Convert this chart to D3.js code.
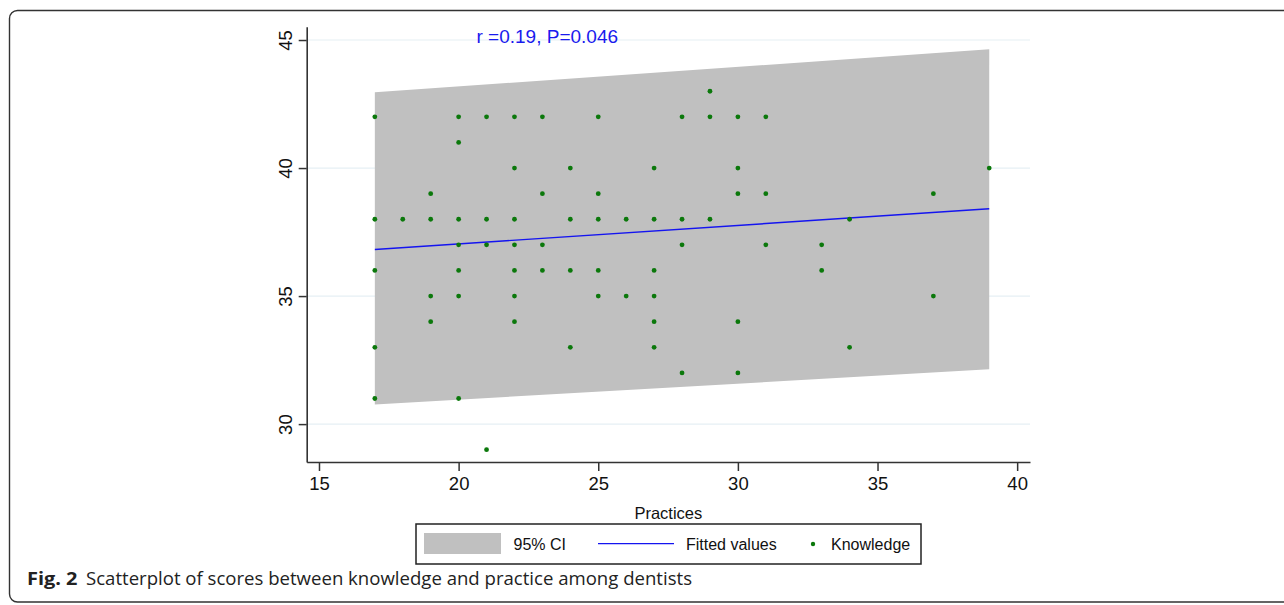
<!DOCTYPE html>
<html>
<head>
<meta charset="utf-8">
<script src="https://cdn.jsdelivr.net/npm/d3@7/dist/d3.min.js"></script>
<style>
  html, body { margin: 0; padding: 0; background: #fff; }
  svg { display: block; }
</style>
</head>
<body>
<svg id="chart" width="1284" height="605"></svg>
<script>
// ---- Data ----
const practices = [
  17,17,17,17,17,
  18,
  19,19,19,19,
  20,20,20,20,20,20,20,
  21,21,21,21,
  22,22,22,22,22,22,22,
  23,23,23,23,
  24,24,24,24,
  25,25,25,25,25,
  26,26,
  27,27,27,27,27,27,
  28,28,28,28,
  29,29,29,
  30,30,30,30,30,
  31,31,31,
  33,33,
  34,34,
  37,37,
  39
];
const knowledge = [
  42,38,36,33,31,
  38,
  39,38,35,34,
  42,41,38,37,36,35,31,
  42,38,37,29,
  42,40,38,37,36,35,34,
  42,39,37,36,
  40,38,36,33,
  42,39,38,36,35,
  38,35,
  40,38,36,35,34,33,
  42,38,37,32,
  43,42,38,
  42,40,39,34,32,
  42,39,37,
  37,36,
  38,33,
  39,35,
  40
];
const fitX = [17, 39];
const fitY = [36.82, 38.41];
const ciLower = [30.77, 32.14];
const ciUpper = [42.96, 44.64];
const xTicks = [15, 20, 25, 30, 35, 40];
const yTicks = [30, 35, 40, 45];
const legendLabels = ["95% CI", "Fitted values", "Knowledge"];
const annotation = "r =0.19, P=0.046";
const xTitle = "Practices";
const captionBold = "Fig. 2";
const captionText = "Scatterplot of scores between knowledge and practice among dentists";

(function () {
// ---- Layout ----
const svg = d3.select("#chart");
const FONT = "'Liberation Sans', Arial, sans-serif";
const pL = 306.7, pR = 1030, pT = 26.7, pB = 462;
const x = d3.scaleLinear().domain([14.56, 40.46]).range([pL, pR]);
const y = d3.scaleLinear().domain([28.52, 45.52]).range([pB, pT]);

// figure frame
svg.append("rect")
  .attr("x", 9.5).attr("y", 10.5).attr("width", 1300).attr("height", 591.5)
  .attr("rx", 8).attr("ry", 8)
  .attr("fill", "none").attr("stroke", "#333").attr("stroke-width", 1.4);

// gridlines
svg.append("g").selectAll("line").data(yTicks).join("line")
  .attr("x1", pL).attr("x2", pR)
  .attr("y1", d => y(d)).attr("y2", d => y(d))
  .attr("stroke", "#e6eff4").attr("stroke-width", 1.2);

// CI band
const ciData = fitX.map((d, i) => ({x: d, lo: ciLower[i], hi: ciUpper[i]}));
svg.append("path").datum(ciData)
  .attr("fill", "#c0c0c0")
  .attr("d", d3.area().x(d => x(d.x)).y0(d => y(d.lo)).y1(d => y(d.hi)));

// fitted line
const fitData = fitX.map((d, i) => ({x: d, y: fitY[i]}));
svg.append("path").datum(fitData)
  .attr("fill", "none").attr("stroke", "#1414f0").attr("stroke-width", 1.4)
  .attr("d", d3.line().x(d => x(d.x)).y(d => y(d.y)));

// points
svg.append("g").selectAll("circle").data(practices.map((p, i) => [p, knowledge[i]])).join("circle")
  .attr("cx", d => x(d[0])).attr("cy", d => y(d[1])).attr("r", 2.4)
  .attr("fill", "#0b780b");

// axes
const xAxis = svg.append("g").attr("transform", `translate(0,${pB})`)
  .call(d3.axisBottom(x).tickValues(xTicks).tickSize(9).tickPadding(6).tickSizeOuter(0));
xAxis.select(".domain").attr("stroke", "#333").attr("stroke-width", 1.6);
xAxis.selectAll(".tick line").attr("stroke", "#333").attr("stroke-width", 1.5);
xAxis.selectAll(".tick text").attr("font-family", FONT).attr("font-size", 18.5).attr("fill", "#111");

const yAxis = svg.append("g").attr("transform", `translate(${pL},0)`)
  .call(d3.axisLeft(y).tickValues(yTicks).tickSize(8).tickSizeOuter(0));
yAxis.select(".domain").attr("stroke", "#333").attr("stroke-width", 1.6);
yAxis.selectAll(".tick line").attr("stroke", "#333").attr("stroke-width", 1.5);
yAxis.selectAll(".tick text")
  .attr("font-family", FONT).attr("font-size", 18.5).attr("fill", "#111")
  .attr("x", null).attr("dy", null)
  .attr("text-anchor", "middle")
  .attr("transform", "translate(-15,0) rotate(-90)");

// axis title
svg.append("text").attr("x", (pL + pR) / 2).attr("y", 519)
  .attr("text-anchor", "middle").attr("font-family", FONT).attr("font-size", 16.5)
  .attr("fill", "#111").text(xTitle);

// annotation
svg.append("text").attr("x", 476.5).attr("y", 42.5)
  .attr("font-family", FONT).attr("font-size", 19).attr("fill", "#1a1aee")
  .text(annotation);

// legend
const lg = svg.append("g");
lg.append("rect").attr("x", 416).attr("y", 524).attr("width", 505).attr("height", 40)
  .attr("fill", "#fff").attr("stroke", "#222").attr("stroke-width", 1.5);
lg.append("rect").attr("x", 424).attr("y", 533).attr("width", 77).attr("height", 21).attr("fill", "#c0c0c0");
lg.append("line").attr("x1", 598).attr("x2", 674).attr("y1", 543.6).attr("y2", 543.6)
  .attr("stroke", "#1414f0").attr("stroke-width", 1.4);
lg.append("circle").attr("cx", 813).attr("cy", 544).attr("r", 2.2).attr("fill", "#0b780b");
const lx = [513.5, 686, 831];
lg.selectAll("text.l").data(legendLabels).join("text").attr("class", "l")
  .attr("x", (d, i) => lx[i]).attr("y", 549.5)
  .attr("font-family", FONT).attr("font-size", 16).attr("fill", "#111")
  .text(d => d);

// caption
const CAPFONT = "'Open Sans', 'Noto Sans', sans-serif";
svg.append("text").attr("x", 27).attr("y", 584.5)
  .attr("font-family", CAPFONT).attr("font-size", 18.6).attr("font-weight", "bold")
  .attr("fill", "#222").attr("textLength", 50.5).attr("lengthAdjust", "spacingAndGlyphs")
  .text(captionBold);
svg.append("text").attr("x", 86).attr("y", 584.5)
  .attr("font-family", CAPFONT).attr("font-size", 18.6)
  .attr("fill", "#222").attr("textLength", 606).attr("lengthAdjust", "spacingAndGlyphs")
  .text(captionText);
})();
</script>
</body>
</html>
